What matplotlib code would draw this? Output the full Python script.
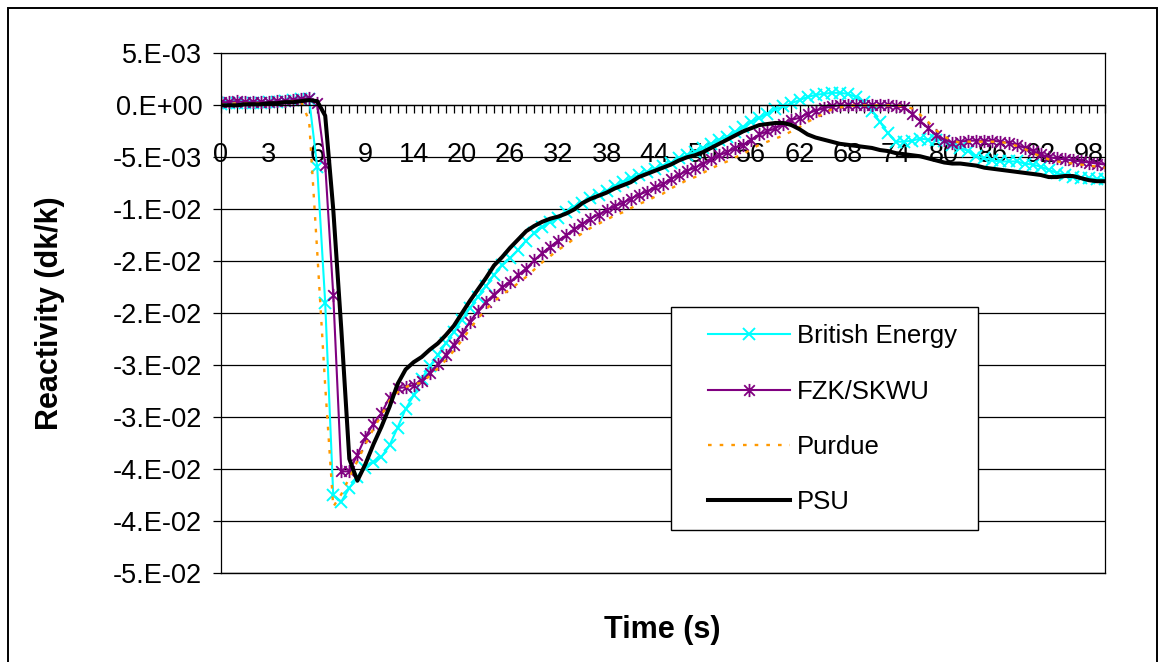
import matplotlib
matplotlib.use("Agg")
import matplotlib.pyplot as plt
from matplotlib.path import Path
from matplotlib.patches import Rectangle

plt.rcParams['font.family'] = ['Liberation Sans', 'DejaVu Sans']
plt.rcParams['lines.scale_dashes'] = False

# Time categories (s)
time_s = [0, 0.5, 1, 1.5, 2, 2.5, 3, 3.5, 4, 4.5, 5, 5.5, 6, 6.5, 7, 7.5, 8, 8.5, 9, 9.5, 10,
          11, 12, 13, 14, 15, 16, 17, 18, 19, 20, 21, 22, 23, 24, 25, 26, 27, 28, 29, 30,
          31, 32, 33, 34, 35, 36, 37, 38, 39, 40, 41, 42, 43, 44, 45, 46, 47, 48, 49, 50,
          51, 52, 53, 54, 55, 56, 57, 58, 59, 60, 61, 62, 63, 64, 65, 66, 67, 68, 69, 70,
          71, 72, 73, 74, 75, 76, 77, 78, 79, 80, 81, 82, 83, 84, 85, 86, 87, 88, 89, 90,
          91, 92, 93, 94, 95, 96, 97, 98, 99, 100]

british_energy = [
    0.0001, 0.0002, 0.0002, 0.0002, 0.0002, 0.0002, 0.0003, 0.0003, 0.0004, 0.0005,
    0.0006, 0.0006, -0.0059, -0.0190, -0.0375, -0.0381, -0.0368, -0.0357, -0.0349, -0.0343,
    -0.0338, -0.0327, -0.0310, -0.0292, -0.0279, -0.0263, -0.0251, -0.0240, -0.0229, -0.0218,
    -0.0206, -0.0195, -0.0184, -0.0174, -0.0163, -0.0154, -0.0147, -0.0139, -0.0130, -0.0123,
    -0.0117, -0.0112, -0.0108, -0.0103, -0.0098, -0.0094, -0.0089, -0.0086, -0.0082, -0.0078,
    -0.0074, -0.0070, -0.0067, -0.0064, -0.0061, -0.0058, -0.0055, -0.0051, -0.0048, -0.0045,
    -0.0041, -0.0037, -0.0033, -0.0030, -0.0026, -0.0021, -0.0016, -0.0012, -0.0008, -0.0004,
    -0.0001, 0.0002, 0.0005, 0.0008, 0.0010, 0.0011, 0.0012, 0.0012, 0.0011, 0.0008,
    0.0003, -0.0005, -0.0016, -0.0027, -0.0035, -0.0035, -0.0034, -0.0032, -0.0033, -0.0033,
    -0.0034, -0.0038, -0.0041, -0.0044, -0.0049, -0.0051, -0.0053, -0.0054, -0.0054, -0.0054,
    -0.0056, -0.0057, -0.0059, -0.0062, -0.0065, -0.0067, -0.0069, -0.0070, -0.0070, -0.0071,
    -0.0071]

fzk_skwu = [
    0.0003, 0.0003, 0.0004, 0.0003, 0.0003, 0.0003, 0.0003, 0.0004, 0.0004, 0.0005,
    0.0006, 0.0007, 0.0002, -0.0057, -0.0182, -0.0352, -0.0352, -0.0336, -0.0319, -0.0306,
    -0.0296, -0.0281, -0.0272, -0.0271, -0.0269, -0.0265, -0.0257, -0.0249, -0.0240, -0.0230,
    -0.0220, -0.0208, -0.0198, -0.0189, -0.0182, -0.0175, -0.0170, -0.0163, -0.0157, -0.0149,
    -0.0142, -0.0136, -0.0130, -0.0125, -0.0119, -0.0114, -0.0109, -0.0105, -0.0101, -0.0097,
    -0.0094, -0.0090, -0.0086, -0.0083, -0.0079, -0.0076, -0.0071, -0.0067, -0.0063, -0.0060,
    -0.0056, -0.0052, -0.0048, -0.0045, -0.0041, -0.0038, -0.0033, -0.0028, -0.0025, -0.0022,
    -0.0018, -0.0014, -0.0012, -0.0008, -0.0005, -0.0003, -0.0001, 0.0000, 0.0000, 0.0000,
    0.0000, 0.0000, 0.0000, 0.0000, -0.0001, -0.0002, -0.0008, -0.0015, -0.0022, -0.0029,
    -0.0033, -0.0036, -0.0035, -0.0034, -0.0034, -0.0034, -0.0034, -0.0035, -0.0036, -0.0038,
    -0.0041, -0.0044, -0.0047, -0.0050, -0.0051, -0.0052, -0.0053, -0.0054, -0.0055, -0.0056,
    -0.0057]

purdue = [
    0.0001, 0.0001, 0.0002, 0.0002, 0.0002, 0.0002, 0.0002, 0.0003, 0.0003, 0.0004,
    0.0004, -0.0015, -0.0140, -0.0270, -0.0386, -0.0374, -0.0358, -0.0342, -0.0326, -0.0311,
    -0.0298, -0.0284, -0.0276, -0.0271, -0.0268, -0.0267, -0.0260, -0.0253, -0.0245, -0.0236,
    -0.0226, -0.0215, -0.0205, -0.0196, -0.0189, -0.0182, -0.0177, -0.0171, -0.0165, -0.0158,
    -0.0151, -0.0145, -0.0139, -0.0134, -0.0128, -0.0123, -0.0118, -0.0114, -0.0110, -0.0106,
    -0.0103, -0.0099, -0.0095, -0.0092, -0.0088, -0.0085, -0.0080, -0.0076, -0.0072, -0.0069,
    -0.0065, -0.0061, -0.0057, -0.0054, -0.0050, -0.0047, -0.0042, -0.0038, -0.0035, -0.0032,
    -0.0029, -0.0025, -0.0021, -0.0016, -0.0012, -0.0008, -0.0004, -0.0002, -0.0001, 0.0000,
    0.0000, 0.0000, 0.0000, 0.0000, 0.0000, -0.0001, -0.0003, -0.0009, -0.0016, -0.0024,
    -0.0030, -0.0034, -0.0036, -0.0035, -0.0035, -0.0035, -0.0035, -0.0035, -0.0037, -0.0039,
    -0.0042, -0.0046, -0.0049, -0.0052, -0.0054, -0.0055, -0.0056, -0.0057, -0.0058, -0.0059,
    -0.0060]

psu = [
    0.0000, 0.0000, 0.0000, 0.0001, 0.0001, 0.0001, 0.0002, 0.0002, 0.0003, 0.0003,
    0.0004, 0.0005, 0.0004, -0.0010, -0.0100, -0.0215, -0.0340, -0.0361, -0.0345, -0.0326,
    -0.0309, -0.0290, -0.0268, -0.0254, -0.0247, -0.0242, -0.0235, -0.0229, -0.0221, -0.0212,
    -0.0200, -0.0188, -0.0177, -0.0166, -0.0154, -0.0146, -0.0137, -0.0129, -0.0121, -0.0116,
    -0.0112, -0.0109, -0.0107, -0.0104, -0.0100, -0.0094, -0.0090, -0.0087, -0.0084, -0.0080,
    -0.0077, -0.0074, -0.0069, -0.0066, -0.0063, -0.0060, -0.0057, -0.0053, -0.0050, -0.0048,
    -0.0045, -0.0041, -0.0037, -0.0033, -0.0029, -0.0025, -0.0022, -0.0019, -0.0018, -0.0017,
    -0.0017, -0.0019, -0.0023, -0.0028, -0.0031, -0.0033, -0.0035, -0.0037, -0.0038, -0.0039,
    -0.0040, -0.0041, -0.0043, -0.0044, -0.0046, -0.0047, -0.0048, -0.0049, -0.0051, -0.0053,
    -0.0055, -0.0056, -0.0056, -0.0057, -0.0058, -0.0060, -0.0061, -0.0062, -0.0063, -0.0064,
    -0.0065, -0.0066, -0.0067, -0.0069, -0.0069, -0.0068, -0.0068, -0.0070, -0.0072, -0.0073,
    -0.0073]

series_names = ["British Energy", "FZK/SKWU", "Purdue", "PSU"]

x_tick_labels = ["0", "3", "6", "9", "14", "20", "26", "32", "38", "44", "50",
                 "56", "62", "68", "74", "80", "86", "92", "98"]
y_tick_values = [0.005, 0.0, -0.005, -0.010, -0.015, -0.020, -0.025, -0.030,
                 -0.035, -0.040, -0.045]
y_tick_labels = ["5.E-03", "0.E+00", "-5.E-03", "-1.E-02", "-2.E-02", "-2.E-02",
                 "-3.E-02", "-3.E-02", "-4.E-02", "-4.E-02", "-5.E-02"]

W, H = 1164, 662
fig = plt.figure(figsize=(W / 100, H / 100), dpi=100)

# plot area in pixel coordinates
L, R, T, B = 220.7, 1105.0, 53.3, 573.3
ax = fig.add_axes([L / W, 1 - B / H, (R - L) / W, (B - T) / H])

cats = list(range(len(time_s)))

# asterisk marker (x plus a vertical bar)
asterisk = Path([(-1, -1), (1, 1), (-1, 1), (1, -1), (0, -1.25), (0, 1.25)],
                [Path.MOVETO, Path.LINETO, Path.MOVETO, Path.LINETO, Path.MOVETO, Path.LINETO])

ax.plot(cats, british_energy, color='#00FFFF', lw=1.5, marker='x', ms=8.5, mew=1.4,
        label=series_names[0], zorder=2)
ax.plot(cats, fzk_skwu, color='#800080', lw=1.5, marker=asterisk, ms=9.5, mew=1.3,
        mfc='none', label=series_names[1], zorder=2.1)
ax.plot(cats, purdue, color='#FF9900', lw=1.7, linestyle=(0, (2.6, 5.8)),
        dash_capstyle='butt', label=series_names[2], zorder=2.2)
ax.plot(cats, psu, color='black', lw=2.9, label=series_names[3], zorder=2.3,
        solid_joinstyle='round')

ax.set_xlim(0, len(time_s) - 1)
ax.set_ylim(-0.045, 0.005)

# y axis
ax.set_yticks(y_tick_values)
ax.set_yticklabels(y_tick_labels)
ax.tick_params(axis='y', direction='out', length=5.8, width=0.9, pad=7.5,
               labelsize=19.5, colors='black')
ax.yaxis.grid(True, color='black', lw=0.9)
ax.set_axisbelow(True)

# x axis crossing at zero, a tick at every category
label_pos = [time_s.index(float(s)) for s in x_tick_labels]
ax.set_xticks(label_pos)
ax.set_xticklabels(x_tick_labels)
ax.set_xticks(cats, minor=True)
ax.tick_params(axis='x', which='both', direction='out', length=5.5, width=0.9)
ax.tick_params(axis='x', which='major', pad=21, labelsize=19.5)
ax.spines['bottom'].set_position(('data', 0))
for s in ['left', 'bottom', 'right', 'top']:
    ax.spines[s].set_color('black')
    ax.spines[s].set_linewidth(0.9)
ax.axhline(-0.045, color='black', lw=1.0, clip_on=False, zorder=1)

# axis titles
fig.text(50 / W, 1 - 313 / H, "Reactivity (dk/k)", rotation=90, ha='center', va='center',
         fontsize=22, fontweight='bold')
fig.text(662 / W, 1 - 630 / H, "Time (s)", ha='center', va='center',
         fontsize=22, fontweight='bold')

# legend box
box = Rectangle((670.7 / W, 1 - 530 / H), (978 - 670.7) / W, (530 - 306.7) / H,
                transform=fig.transFigure, facecolor='white', edgecolor='black',
                lw=1.0, zorder=4, clip_on=False)
ax.add_patch(box)
leg = ax.legend(loc='center left', bbox_to_anchor=(708 / W, 1 - 419.2 / H),
                bbox_transform=fig.transFigure, frameon=False, numpoints=1,
                fontsize=18.5, handlelength=3.2, handletextpad=0.25,
                labelspacing=1.22, borderpad=0, borderaxespad=0)
leg.set_zorder(5)

# outer chart border
fig.patches.append(Rectangle((8 / W, -0.05), (1157 - 8) / W, 1 - 8 / H + 0.05,
                             transform=fig.transFigure, fill=False,
                             edgecolor='black', lw=1.4))

fig.savefig("out.png", dpi=100)
